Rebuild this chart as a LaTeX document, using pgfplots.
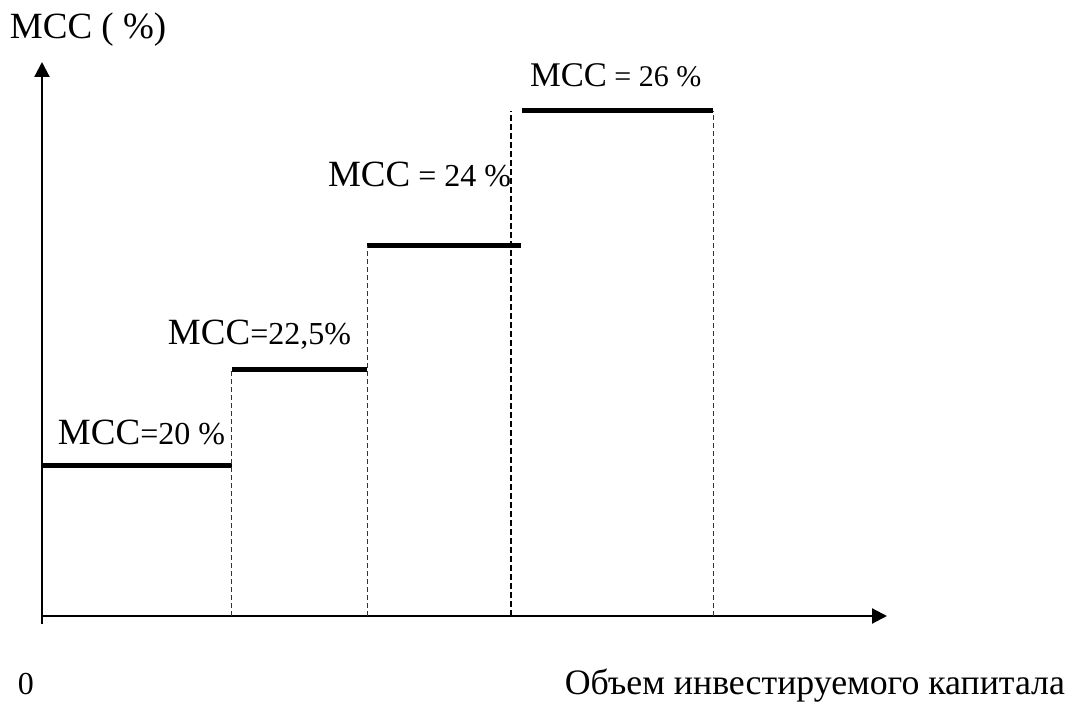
\documentclass[border=0pt]{standalone}
\usepackage{fontspec}
\setmainfont{Liberation Serif}
\usepackage{pgfplots}
\pgfplotsset{compat=1.18}
\usetikzlibrary{arrows.meta}
\newcommand{\lrg}[1]{{\fontsize{18.5pt}{20pt}\selectfont #1}}
\newcommand{\sml}[1]{{\fontsize{16pt}{18pt}\selectfont #1}}
\tikzset{lbl/.style={inner sep=0pt, outer sep=0pt}}
\begin{document}
\begin{tikzpicture}
\begin{axis}[
  x=0.5pt, y=0.5pt,
  xmin=0, xmax=845, ymin=0, ymax=554,
  axis x line=bottom, axis y line=left,
  axis line style={line width=1.1pt, -{Triangle[length=7.5pt,width=7.5pt]}},
  ticks=none,
  clip=false,
]
\path (axis cs:-42,-84) rectangle (axis cs:1025,616);
% y axis stub below origin
\addplot[black, line width=1.1pt] coordinates {(0,0) (0,-8)};
% steps
\addplot[black, line width=2.5pt] coordinates {(0,150) (190,150)};
\addplot[black, line width=2.5pt] coordinates {(190,246) (325,246)};
\addplot[black, line width=2.5pt] coordinates {(325,370) (479,370)};
\addplot[black, line width=2.5pt] coordinates {(480,505) (671,505)};
% dashed verticals
\addplot[black!80, line width=0.5pt, dash pattern=on 2.5pt off 1.5pt] coordinates {(190,0) (190,246)};
\addplot[black!80, line width=0.5pt, dash pattern=on 2.5pt off 1.5pt] coordinates {(325,0) (325,370)};
\addplot[black, line width=0.6pt, dash pattern=on 3pt off 1.5pt] coordinates {(469,0) (469,505)};
\addplot[black!80, line width=0.5pt, dash pattern=on 2.5pt off 1.5pt] coordinates {(671,0) (671,505)};
% labels
\node[lbl, anchor=base west] at (axis cs:-32,577) {\lrg{MCC ( \%)}};
\node[lbl, anchor=base west] at (axis cs:16,171) {\lrg{MCC}\sml{=20 \%}};
\node[lbl, anchor=base west] at (axis cs:126,271) {\lrg{MCC}\sml{=22,5\%}};
\node[lbl, anchor=base west] at (axis cs:286,429) {\lrg{MCC}\sml{ = 24 \%}};
\node[lbl, anchor=base west] at (axis cs:488,529) {{\fontsize{17.3pt}{19pt}\selectfont MCC}{\fontsize{15pt}{17pt}\selectfont\ = 26 \%}};
\node[lbl, anchor=base west] at (axis cs:-24,-79) {\sml{0}};
\node[lbl, anchor=base east] at (axis cs:1023,-79) {{\fontsize{17.9pt}{19pt}\selectfont Объем инвестируемого капитала}};
\end{axis}
\end{tikzpicture}
\end{document}
